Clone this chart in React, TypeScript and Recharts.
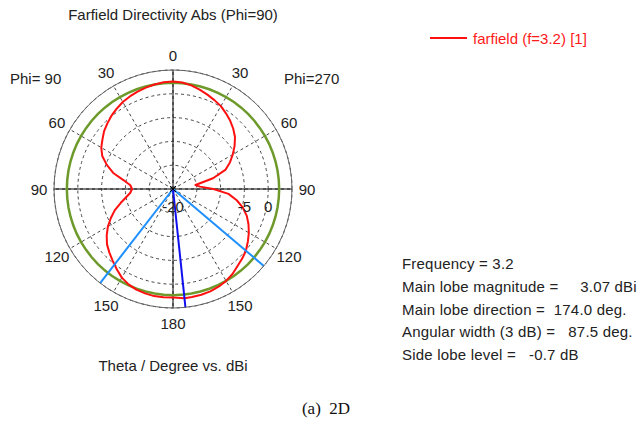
import { RadarChart, Radar, PolarGrid, PolarAngleAxis, PolarRadiusAxis } from "recharts";

// theta measured clockwise from the top: 0..180 is the Phi=270 half, 180..360 the Phi=90 half
const thetaCw = [
  0, 5, 10, 15, 20, 25, 30, 35, 40, 45, 50, 55, 60, 65, 70, 75, 80, 85, 90, 95, 100, 105, 110, 115, 120, 125,
  130.25, 135, 140, 145, 150, 155, 160, 165, 170, 174, 180, 185, 190, 195, 200, 205, 210, 215, 217.75, 220,
  225, 230, 235, 240, 245, 250, 255, 260, 265, 270, 275, 280, 285, 290, 295, 300, 305, 310, 315, 320, 325,
  330, 335, 340, 345, 350, 355,
];
// farfield (f=3.2) [1], dBi
const directivity = [
  2.6, 2.45, 2.1, 1.6, 1.1, 0.6, 0.1, -0.6, -1.3, -2.1, -3.0, -4.2, -5.5, -6.8, -8.3, -11.3, -15.2, -14.3, -11.5, -8.3, -6.4, -4.8, -3.5, -2.5, -1.6, -0.8,
  0.07, 0.6, 1.1, 1.8, 2.3, 2.65, 2.9, 3.0, 3.05, 3.07, 2.8, 2.85, 2.85, 2.7, 2.5, 2.1, 1.5, 0.6, 0.07, -0.3,
  -1.1, -1.9, -3.0, -4.2, -5.6, -7.0, -8.6, -10.0, -11.0, -11.4, -11.0, -9.5, -7.0, -5.2, -3.6, -2.6, -1.9, -1.1, -0.5, 0.1, 0.6,
  1.1, 1.45, 1.75, 2.05, 2.3, 2.5,
];
const maxLevel = 2.3; // green reference circle
const mainLobeDir = 174;
const beamEdges = [130.25, 217.75];
const crossAngles = [0, 90, 180, 270];

const angleTicks = [0, 30, 60, 90, 120, 150, 180, 210, 240, 270, 300, 330];
const radiusDomain = [-20, 5];
const radiusLabels = [-20, -5, 0];

const infoLines = [
  "Frequency = 3.2",
  "Main lobe magnitude =     3.07 dBi",
  "Main lobe direction =  174.0 deg.",
  "Angular width (3 dB) =   87.5 deg.",
  "Side lobe level =   -0.7 dB",
];

const rows = thetaCw.map((t, i) => ({
  theta: t,
  dir: directivity[i],
  level: maxLevel,
  outer: radiusDomain[1],
  ray: t === mainLobeDir ? "main" : beamEdges.includes(t) ? "beam" : crossAngles.includes(t) ? "axis" : null,
}));

const FONT = "'Liberation Sans', Arial, sans-serif";
const TXT = "#222";

function AngleTick(props: any) {
  const { x, y, payload } = props;
  const v = payload.value;
  return (
    <text x={x} y={y} textAnchor="middle" dominantBaseline="central" fontSize={15} fill={TXT} fontFamily={FONT}>
      {v <= 180 ? v : 360 - v}
    </text>
  );
}

function RadiusTick(props: any) {
  const { x, y, payload } = props;
  if (!radiusLabels.includes(payload.value)) return <g />;
  return (
    <text x={x} y={y + 17} textAnchor="middle" dominantBaseline="central" fontSize={15} fill={TXT} fontFamily={FONT}>
      {payload.value}
    </text>
  );
}

// solid cross through the centre
function AxisRays(props: any) {
  const pts = (props.points || []).filter((p: any) => p.payload.ray === "axis");
  return (
    <g>
      {pts.map((p: any, i: number) => (
        <line key={i} x1={p.cx} y1={p.cy} x2={p.x} y2={p.y} stroke="#000" strokeWidth={1} />
      ))}
    </g>
  );
}

// main lobe direction + 3 dB beam edges
function LobeRays(props: any) {
  const pts = props.points || [];
  const c = pts[0];
  return (
    <g>
      {pts
        .filter((p: any) => p.payload.ray === "beam")
        .map((p: any, i: number) => (
          <line key={"b" + i} x1={p.cx} y1={p.cy} x2={p.x} y2={p.y} stroke="#1e8fff" strokeWidth={2} />
        ))}
      {pts
        .filter((p: any) => p.payload.ray === "main")
        .map((p: any, i: number) => (
          <line key={"m" + i} x1={p.cx} y1={p.cy} x2={p.x} y2={p.y} stroke="#1010ee" strokeWidth={2} />
        ))}
      {c && (
        <g stroke="#000" strokeWidth={1}>
          <line x1={c.cx - 3} y1={c.cy - 3} x2={c.cx + 3} y2={c.cy + 3} />
          <line x1={c.cx - 3} y1={c.cy + 3} x2={c.cx + 3} y2={c.cy - 3} />
        </g>
      )}
    </g>
  );
}

const abs = (left: number, top: number, extra: any = {}) => ({
  position: "absolute" as const,
  left,
  top,
  fontFamily: FONT,
  fontSize: 15,
  lineHeight: 1,
  color: TXT,
  whiteSpace: "pre" as const,
  ...extra,
});

export default function App() {
  return (
    <div style={{ position: "absolute", left: 0, top: 0, width: 641, height: 421, background: "#fff", overflow: "hidden" }}>
      <RadarChart
        width={641}
        height={421}
        data={rows}
        cx={173}
        cy={189}
        outerRadius={119}
        startAngle={90}
        endAngle={-270}
        margin={{ top: 0, right: 0, bottom: 0, left: 0 }}
        style={{ position: "absolute", left: 0, top: 0 }}
      >
        <PolarGrid gridType="circle" stroke="#444" strokeDasharray="3 3" />
        <PolarAngleAxis
          dataKey="theta"
          type="number"
          domain={[0, 360]}
          ticks={angleTicks}
          tick={<AngleTick />}
          tickLine={false}
          tickSize={15}
          axisLineType="circle"
          axisLine={{ stroke: "#666" }}
        />
        <PolarRadiusAxis
          angle={0}
          type="number"
          domain={radiusDomain}
          tickCount={6}
          axisLine={false}
          tickLine={false}
          tick={<RadiusTick />}
        />
        <Radar dataKey="outer" shape={<AxisRays />} isAnimationActive={false} dot={false} />
        <Radar dataKey="level" stroke="#6e9a2c" strokeWidth={2.5} fill="none" fillOpacity={0} dot={false} isAnimationActive={false} />
        <Radar
          dataKey="dir"
          stroke="#ff1010"
          strokeWidth={2}
          strokeLinejoin="round"
          fill="none"
          fillOpacity={0}
          dot={false}
          isAnimationActive={false}
        />
        <Radar dataKey="outer" shape={<LobeRays />} isAnimationActive={false} dot={false} />
      </RadarChart>

      <div style={abs(173, 14, { transform: "translate(-50%, -50%)" })}>Farfield Directivity Abs (Phi=90)</div>
      <div style={abs(10, 78, { transform: "translateY(-50%)" })}>Phi= 90</div>
      <div style={abs(284, 78, { transform: "translateY(-50%)" })}>Phi=270</div>
      <div style={abs(173, 365, { transform: "translate(-50%, -50%)" })}>Theta / Degree vs. dBi</div>

      <div style={{ position: "absolute", left: 430, top: 37, width: 37, height: 2, background: "#ff1010" }} />
      <div style={abs(473, 38, { transform: "translateY(-50%)", color: "#ff1a1a" })}>farfield (f=3.2) [1]</div>

      {infoLines.map((s, i) => (
        <div key={i} style={abs(402, 263 + i * 22.75, { transform: "translateY(-50%)", letterSpacing: 0.2 })}>
          {s}
        </div>
      ))}

      <div
        style={abs(326, 408, {
          transform: "translate(-50%, -50%)",
          fontFamily: "'Liberation Serif', 'Times New Roman', serif",
          fontSize: 17,
          color: "#111",
        })}
      >
        (a)  2D
      </div>
    </div>
  );
}
